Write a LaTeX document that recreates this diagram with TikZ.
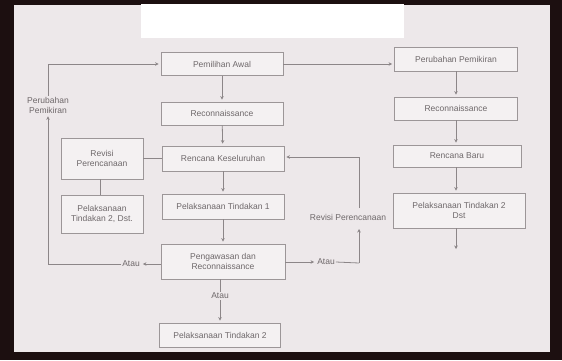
\documentclass[tikz,border=0pt]{standalone}
\usepackage{fontspec}
\setmainfont{Liberation Sans}
\usetikzlibrary{arrows.meta,calc}
\definecolor{darkbg}{HTML}{1C0F10}
\definecolor{paper}{HTML}{EDE8EA}
\definecolor{boxline}{HTML}{9C9698}
\definecolor{conline}{HTML}{8C8688}
\definecolor{txt}{HTML}{6E686A}
\tikzset{
  box/.style={draw=boxline, line width=0.8pt, fill=paper!60!white, text=txt, font=\fontsize{8.5}{10}\selectfont, align=center, inner sep=1pt},
  lbl/.style={text=txt, font=\fontsize{8.5}{10}\selectfont, align=center, inner sep=1pt},
  con/.style={draw=conline, line width=0.8pt},
  arr/.style={con, -{Stealth[length=3.5pt,width=3.5pt]}, shorten >=2pt}
}
\begin{document}
\begin{tikzpicture}[x=1pt,y=-1pt]
\useasboundingbox (0,0) rectangle (562,360);
\fill[darkbg] (0,0) rectangle (562,360);
\fill[paper] (14,5) rectangle (550,352);
\fill[white] (141,4) rectangle (404,38);
% centre column
\node[box, minimum width=122pt, minimum height=23pt] (pa) at (222,64) {Pemilihan Awal};
\node[box, minimum width=122pt, minimum height=23pt] (r1) at (222,113.5) {Reconnaissance};
\node[box, minimum width=122pt, minimum height=25pt] (rk) at (223,158.5) {Rencana Keseluruhan};
\node[box, minimum width=122pt, minimum height=25pt] (pt1) at (223,206.5) {Pelaksanaan Tindakan 1};
\node[box, minimum width=124pt, minimum height=35pt] (pr) at (223,261.5) {Pengawasan dan\\Reconnaissance};
\node[box, minimum width=121pt, minimum height=24pt] (pt2) at (220,335) {Pelaksanaan Tindakan 2};
% left column
\node[box, minimum width=82pt, minimum height=41pt] (rev) at (102,158.5) {Revisi\\Perencanaan};
\node[box, minimum width=82pt, minimum height=38pt] (pdst) at (102,214) {Pelaksanaan\\Tindakan 2, Dst.};
% right column
\node[box, minimum width=123pt, minimum height=24pt] (pp) at (456,59) {Perubahan Pemikiran};
\node[box, minimum width=123pt, minimum height=23pt] (r2) at (456,108.5) {Reconnaissance};
\node[box, minimum width=128pt, minimum height=22pt] (rb) at (457,156) {Rencana Baru};
\node[box, minimum width=132pt, minimum height=35pt] (pdr) at (459,210.5) {Pelaksanaan Tindakan 2\\Dst};
% labels
\node[lbl] (pem) at (48,105) {Perubahan\\Pemikiran};
\node[lbl] (atl) at (131,264) {Atau};
\node[lbl] (atr) at (326,262) {Atau};
\node[lbl] (atb) at (220,296) {Atau};
\node[lbl] (revl) at (348,217) {Revisi Perencanaan};
% coordinates
\coordinate (lb) at (48,264);
\coordinate (lt) at (48,64);
\coordinate (rbot) at (359,263);
\coordinate (rup) at (359,227);
\coordinate (rlo) at (359,208);
\coordinate (rtop) at (359,157);
\coordinate (rend) at (456,251);
% connectors
\draw[arr] (pa) -- (r1);
\draw[arr] (r1) -- (rk);
\draw[arr] (rk) -- (pt1);
\draw[arr] (pt1) -- (pr);
\draw[con] (pr.south -| atb) -- (atb.north);
\draw[arr] (atb.south) -- (pt2.north -| atb);
\draw[arr] (pr.west |- atl) -- (atl.east);
\draw[con] (atl.west) -- (lb);
\draw[arr] (lb) -- (pem.south);
\draw[con] (pem.north) -- (lt);
\draw[arr] (lt) -- (pa.west |- lt);
\draw[arr] (pa.east |- lt) -- (pp.west |- lt);
\draw[con] (rev.east |- rk) -- (rk.west);
\draw[con] (rev.south -| 100,0) -- (pdst.north -| 100,0);
\draw[arr] (pr.east |- atr) -- (atr.west);
\draw[con] (atr.east) -- (rbot);
\draw[arr] (rbot) -- (rup);
\draw[con] (rlo) -- (rtop);
\draw[arr] (rtop) -- (rk.east |- rtop);
\draw[arr] (pp) -- (r2);
\draw[arr] (r2.south) -- (rb.north -| r2.south);
\draw[arr] (rb.south -| r2.south) -- (pdr.north -| r2.south);
\draw[arr] (pdr.south -| r2.south) -- (rend);
\end{tikzpicture}
\end{document}
